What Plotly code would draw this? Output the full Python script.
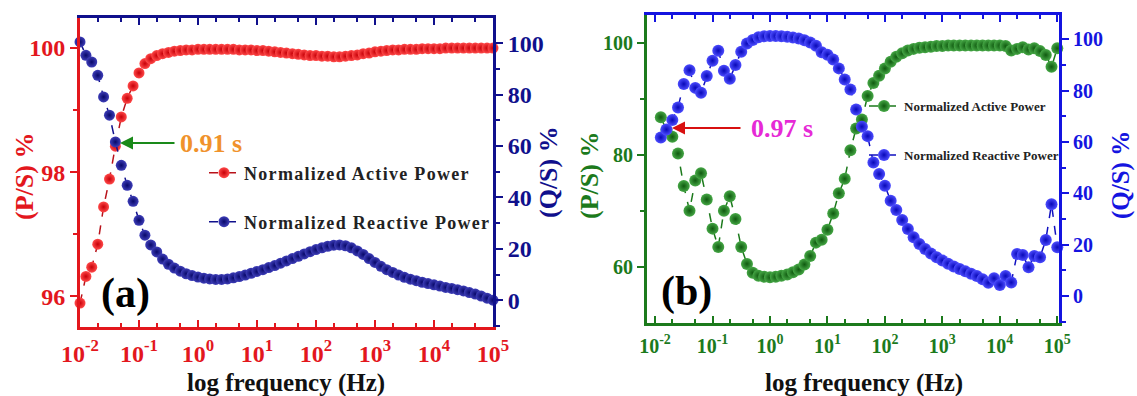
import plotly.graph_objects as go

# ---------------- data ----------------
freq_a = [0.01, 0.0126, 0.0158, 0.02, 0.0251, 0.0316, 0.0398, 0.0501, 0.0631, 0.0794,
          0.1, 0.126, 0.158, 0.2, 0.251, 0.316, 0.398, 0.501, 0.631, 0.794,
          1, 1.26, 1.58, 2, 2.51, 3.16, 3.98, 5.01, 6.31, 7.94,
          10, 12.6, 15.8, 20, 25.1, 31.6, 39.8, 50.1, 63.1, 79.4,
          100, 126, 158, 200, 251, 316, 398, 501, 631, 794,
          1000, 1260, 1580, 2000, 2510, 3160, 3980, 5010, 6310, 7940,
          10000, 12600, 15800, 20000, 25100, 31600, 39800, 50100, 63100, 79400,
          100000]

active_a = [95.89, 96.32, 96.47, 96.84, 97.44, 97.89, 98.42, 98.89, 99.19, 99.39,
            99.60, 99.75, 99.83, 99.88, 99.91, 99.93, 99.95, 99.96, 99.97, 99.97,
            99.98, 99.98, 99.98, 99.98, 99.98, 99.98, 99.98, 99.97, 99.97, 99.97,
            99.96, 99.96, 99.95, 99.94, 99.93, 99.92, 99.91, 99.90, 99.89, 99.88,
            99.88, 99.87, 99.87, 99.86, 99.86, 99.87, 99.88, 99.89, 99.91, 99.92,
            99.94, 99.95, 99.96, 99.97, 99.97, 99.98, 99.98, 99.98, 99.99, 99.99,
            99.99, 99.99, 100.0, 100.0, 100.0, 100.0, 100.0, 100.0, 100.0, 100.0,
            100.0]

reactive_a = [100.5, 95.3, 92.7, 87.5, 79.1, 72.0, 61.6, 52.5, 44.7, 38.5,
              31.1, 25.3, 21.5, 18.8, 16.0, 14.0, 12.5, 11.3, 10.3, 9.6,
              9.0, 8.6, 8.3, 8.1, 8.1, 8.3, 8.7, 9.2, 9.8, 10.5,
              11.2, 11.9, 12.7, 13.5, 14.4, 15.3, 16.2, 17.1, 18.0, 18.9,
              19.7, 20.4, 21.0, 21.4, 21.5, 21.2, 20.4, 19.2, 17.8, 16.2,
              14.7, 13.2, 11.9, 10.8, 9.8, 8.9, 8.2, 7.6, 7.0, 6.5,
              6.0, 5.5, 5.0, 4.6, 4.1, 3.6, 3.0, 2.4, 1.6, 0.8,
              0.0]

freq_b = [0.0126, 0.0158, 0.02, 0.0251, 0.0316, 0.0398, 0.0501, 0.0631, 0.0794, 0.1,
          0.126, 0.158, 0.2, 0.251, 0.316, 0.398, 0.501, 0.631, 0.794, 1,
          1.26, 1.58, 2, 2.51, 3.16, 3.98, 5.01, 6.31, 7.94, 10,
          12.6, 15.8, 20, 25.1, 31.6, 39.8, 50.1, 63.1, 79.4, 100,
          126, 158, 200, 251, 316, 398, 501, 631, 794, 1000,
          1260, 1580, 2000, 2510, 3160, 3980, 5010, 6310, 7940, 10000,
          12600, 15800, 20000, 25100, 31600, 39800, 50100, 63100, 79400, 100000]

active_b = [86.8, 84.5, 83.3, 80.3, 74.5, 70.1, 75.5, 76.8, 72.1, 66.9,
            63.6, 70.1, 72.7, 68.6, 63.6, 60.6, 59.0, 58.5, 58.3, 58.2,
            58.3, 58.5, 58.7, 59.1, 59.6, 60.5, 62.0, 64.4, 64.9, 66.7,
            69.6, 73.2, 75.8, 80.9, 84.8, 86.4, 90.6, 92.9, 94.2, 95.5,
            96.7, 97.6, 98.2, 98.7, 99.0, 99.2, 99.3, 99.4, 99.5, 99.5,
            99.6, 99.6, 99.6, 99.6, 99.6, 99.6, 99.6, 99.6, 99.6, 99.6,
            99.5, 98.7, 99.0, 99.3, 98.9, 99.1, 98.6, 97.9, 95.8, 99.1]

reactive_b = [61.8, 64.9, 68.6, 73.5, 82.6, 88.0, 81.1, 79.2, 85.7, 91.7,
              95.6, 87.8, 84.7, 90.0, 95.2, 98.4, 99.8, 100.8, 101.2, 101.3,
              101.3, 101.2, 101.0, 100.7, 100.3, 99.7, 98.8, 97.5, 95.0, 94.0,
              92.2, 88.7, 84.4, 80.5, 72.7, 66.0, 62.3, 52.0, 47.5, 43.0,
              37.1, 33.5, 29.6, 26.1, 22.9, 20.3, 18.3, 16.6, 15.1, 13.8,
              12.6, 11.5, 10.5, 9.6, 8.7, 7.8, 6.5, 5.2, 6.9, 4.3,
              7.8, 5.3, 16.4, 16.0, 11.2, 15.6, 15.1, 21.8, 35.8, 19.0]

x_tickvals = [0.01, 0.1, 1, 10, 100, 1000, 10000, 100000]
x_ticktext = ["10<sup>-2</sup>", "10<sup>-1</sup>", "10<sup>0</sup>", "10<sup>1</sup>",
              "10<sup>2</sup>", "10<sup>3</sup>", "10<sup>4</sup>", "10<sup>5</sup>"]
ps_ticks_a = [96, 98, 100]
ps_ticks_b = [60, 80, 100]
qs_ticks = [0, 20, 40, 60, 80, 100]

# ---------------- styles ----------------
FONT = "Liberation Serif"
RED = "#e3171d"
NAVY = "#10108c"
GREEN = "#1c7a1c"
BLUE = "#1414e0"
W, H = 1137, 396

def px(x):
    return x / W

def py(y):
    return 1 - y / H

xa_dom = [px(80), px(493)]
xb_dom = [px(647), px(1059)]
ya_dom = [py(326.7), py(18.3)]
yb_dom = [py(322.7), py(15)]

fig = go.Figure()

def spaced(s):
    return '<span style="letter-spacing:1.3px">' + s + '</span>'

def add_series(x, y, xa, ya, name, legend, center, edge, linecol, size):
    fig.add_trace(go.Scatter(
        x=x, y=y, xaxis=xa, yaxis=ya, mode="lines+markers", name=name,
        legend=legend, cliponaxis=False, showlegend=True,
        marker=dict(size=size, color=center,
                    gradient=dict(type="radial", color=edge),
                    line=dict(width=0)),
        line=dict(color=linecol, width=1.5, dash="dash"),
    ))

add_series(freq_a, active_a, "x", "y", spaced("Normalized Active Power"), "legend",
           "#ff4a4a", "#c80008", "#b8121a", 11)
add_series(freq_a, reactive_a, "x", "y2", spaced("Normalized Reactive Power"), "legend2",
           "#3e3eb8", "#08086a", NAVY, 11)
add_series(freq_b, active_b, "x2", "y3", "Normalized Active Power", "legend3",
           "#46a846", "#0f5a0f", GREEN, 12)
add_series(freq_b, reactive_b, "x2", "y4", "Normalized Reactive Power", "legend4",
           "#4d4dff", "#0808b8", "#1010c0", 12)

# invisible carriers so the top (mirror) axes get drawn
for xa, ya, xs, ys in (("x3", "y", freq_a, active_a), ("x4", "y3", freq_b, active_b)):
    fig.add_trace(go.Scatter(x=xs, y=ys, xaxis=xa, yaxis=ya, mode="lines",
                             line=dict(width=0), opacity=0, showlegend=False,
                             hoverinfo="skip"))

def xaxis_cfg(dom, rng, anchor, col, fsize, top=False, overlay=None):
    d = dict(type="log", domain=dom, range=rng, anchor=anchor, automargin=False,
             showline=True, linecolor=col, linewidth=3, mirror=False,
             ticks="inside", ticklen=7, tickwidth=2, tickcolor=col,
             tickvals=x_tickvals, ticktext=x_ticktext,
             tickfont=dict(family=FONT, size=fsize, color=col, weight="bold"),
             minor=dict(ticks="inside", ticklen=4, tickwidth=1.5, tickcolor=col, showgrid=False),
             showgrid=False, zeroline=False, ticklabelstandoff=3)
    if top:
        d.update(side="top", overlaying=overlay, showticklabels=False)
    return d

def yaxis_cfg(dom, rng, anchor, col, tickvals, mdt, fsize, right=False, overlay=None):
    d = dict(domain=dom, range=rng, anchor=anchor, automargin=False,
             showline=True, linecolor=col, linewidth=3,
             ticks="outside", ticklen=7, tickwidth=2, tickcolor=col,
             tickvals=tickvals,
             tickfont=dict(family=FONT, size=fsize, color=col, weight="bold"),
             minor=dict(ticks="outside", ticklen=4, tickwidth=2, tickcolor=col, dtick=mdt, showgrid=False),
             showgrid=False, zeroline=False)
    if right:
        d.update(side="right", overlaying=overlay)
    return d

fig.update_layout(
    template="none",
    width=W, height=H, showlegend=True,
    margin=dict(l=0, r=0, t=0, b=0, autoexpand=False),
    paper_bgcolor="white", plot_bgcolor="white",
    xaxis=xaxis_cfg(xa_dom, [-2, 5], "y", RED, 24),
    xaxis3=xaxis_cfg(xa_dom, [-2, 5], "y", NAVY, 24, top=True, overlay="x"),
    yaxis=yaxis_cfg(ya_dom, [95.51, 100.48], "x", RED, ps_ticks_a, 1, 24),
    yaxis2=yaxis_cfg(ya_dom, [-10.3, 109.7], "x", NAVY, qs_ticks, 10, 24, right=True, overlay="y"),
    xaxis2=xaxis_cfg(xb_dom, [-2.14, 5.03], "y3", GREEN, 20),
    xaxis4=xaxis_cfg(xb_dom, [-2.14, 5.03], "y3", BLUE, 20, top=True, overlay="x2"),
    yaxis3=yaxis_cfg(yb_dom, [50.1, 105.05], "x2", GREEN, ps_ticks_b, 10, 20),
    yaxis4=yaxis_cfg(yb_dom, [-10.4, 109.5], "x2", BLUE, qs_ticks, 10, 20, right=True, overlay="y3"),
)

def legend_cfg(x, y, fsize):
    return dict(x=px(x), y=py(y), xanchor="left", yanchor="middle",
                bgcolor="rgba(0,0,0,0)", borderwidth=0,
                font=dict(family=FONT, size=fsize, color="#222222", weight="bold"))

fig.update_layout(
    legend=legend_cfg(204, 173, 18),
    legend2=legend_cfg(204, 222, 18),
    legend3=legend_cfg(864, 106, 13),
    legend4=legend_cfg(864, 155, 13),
)

ann = []
def text(x, y, s, size, color, angle=0):
    ann.append(dict(x=px(x), y=py(y), xref="paper", yref="paper", text=s, showarrow=False,
                    textangle=angle, xanchor="center", yanchor="middle",
                    font=dict(family=FONT, size=size, color=color, weight="bold")))

def arrow(x_head, y_head, x_tail, color):
    ann.append(dict(x=px(x_head), y=py(y_head), xref="paper", yref="paper", text="",
                    showarrow=True, ax=x_tail - x_head, ay=0, axref="pixel", ayref="pixel",
                    arrowhead=2, arrowsize=1.3, arrowwidth=2, arrowcolor=color))

text(24, 177, "(P/S) %", 26, RED, -90)
text(548, 172, "(Q/S) %", 26, NAVY, -90)
text(286, 383, "log frequency (Hz)", 25, "#111111")
text(125, 293, "(a)", 42, "#000000")
text(211, 143, "0.91 s", 26, "#f0922b")
arrow(120, 143, 176, "#1a8a1a")

text(589, 176, "(P/S) %", 26, GREEN, -90)
text(1121, 175, "(Q/S) %", 25, BLUE, -90)
text(864, 383, "log frequency (Hz)", 25, "#111111")
text(686, 291, "(b)", 42, "#000000")
text(782, 128, "0.97 s", 26, "#e62ad6")
arrow(672, 128, 742, "#d81010")

fig.update_layout(annotations=ann)

fig.write_html("out.html")
